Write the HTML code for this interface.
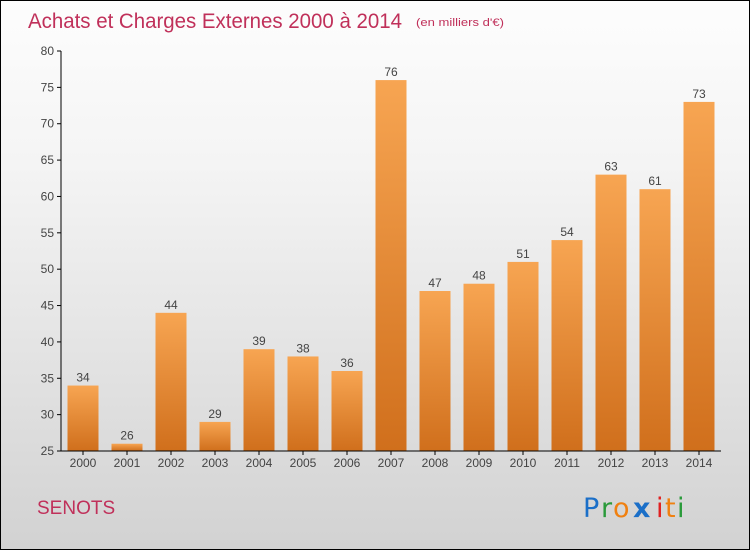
<!DOCTYPE html>
<html><head><meta charset="utf-8"><style>
body{margin:0}
#c{width:748px;height:548px;border:1px solid #000;position:relative;background:linear-gradient(#fdfdfd,#f4f4f4 30%,#d2d2d2);font-family:"Liberation Sans",sans-serif;overflow:hidden}
</style></head><body>
<div id="c">
<svg id="s" width="748" height="548" style="position:absolute;left:0;top:0">
<defs><linearGradient id="g" x1="0" y1="0" x2="0" y2="1"><stop offset="0" stop-color="#f7a552"/><stop offset="1" stop-color="#d06f1c"/></linearGradient></defs>
<text x="27" y="27" font-size="21" fill="#c0305a" textLength="374" lengthAdjust="spacingAndGlyphs">Achats et Charges Externes 2000 à 2014</text>
<text x="415" y="25" font-size="11" fill="#c0305a" textLength="88" lengthAdjust="spacingAndGlyphs">(en milliers d'€)</text>
<text x="36" y="513" font-size="19" fill="#c0305a">SENOTS</text>
<g font-size="27" font-family="'DejaVu Sans',sans-serif">
<text x="582" y="516" fill="#1b6fc8">P</text><text x="600" y="516" fill="#2a9a3a">r</text><text x="612" y="516" fill="#f08010">o</text><text x="632" y="516" fill="#1b6fc8" font-weight="bold">x</text><text x="655" y="516" fill="#e02020">i</text><text x="664" y="516" fill="#f08010">t</text><text x="676" y="516" fill="#2a9a3a">i</text>
</g>
</svg>
</div>
<script>
const years=["2000","2001","2002","2003","2004","2005","2006","2007","2008","2009","2010","2011","2012","2013","2014"];
const values=[34,26,44,29,39,38,36,76,47,48,51,54,63,61,73];
const yTicks=[25,30,35,40,45,50,55,60,65,70,75,80];
const s=document.getElementById('s');
const NS='http://www.w3.org/2000/svg';
const y=v=>450-(v-25)*400/55;
const x=i=>82+i*44;
function mk(t,a,txt){const e=document.createElementNS(NS,t);for(const k in a)e.setAttribute(k,a[k]);if(txt!=null)e.textContent=txt;s.appendChild(e);return e;}
yTicks.forEach(t=>{
const l=mk('line',{x1:56,x2:60,y1:y(t),y2:y(t),stroke:'#000'});


const tx=mk('text',{x:53,y:y(t)+4,'font-size':12,fill:'#444','text-anchor':'end'},t);


});
years.forEach((yr,i)=>{
const r=mk('rect',{x:x(i)-15.5,y:y(values[i]),width:31,height:450-y(values[i]),fill:'url(#g)'});


const v=mk('text',{x:x(i),y:y(values[i])-4,'font-size':12,fill:'#444','text-anchor':'middle'},values[i]);


const xl=mk('text',{x:x(i),y:466,'font-size':12,fill:'#444','text-anchor':'middle'},yr);


const xt=mk('line',{x1:x(i),x2:x(i),y1:450,y2:454,stroke:'#000'});


});
const ya=mk('line',{x1:60,x2:60,y1:y(80),y2:450,stroke:'#000'});


const xa=mk('line',{x1:60,x2:720,y1:450,y2:450,stroke:'#000'});


</script>
</body></html>
